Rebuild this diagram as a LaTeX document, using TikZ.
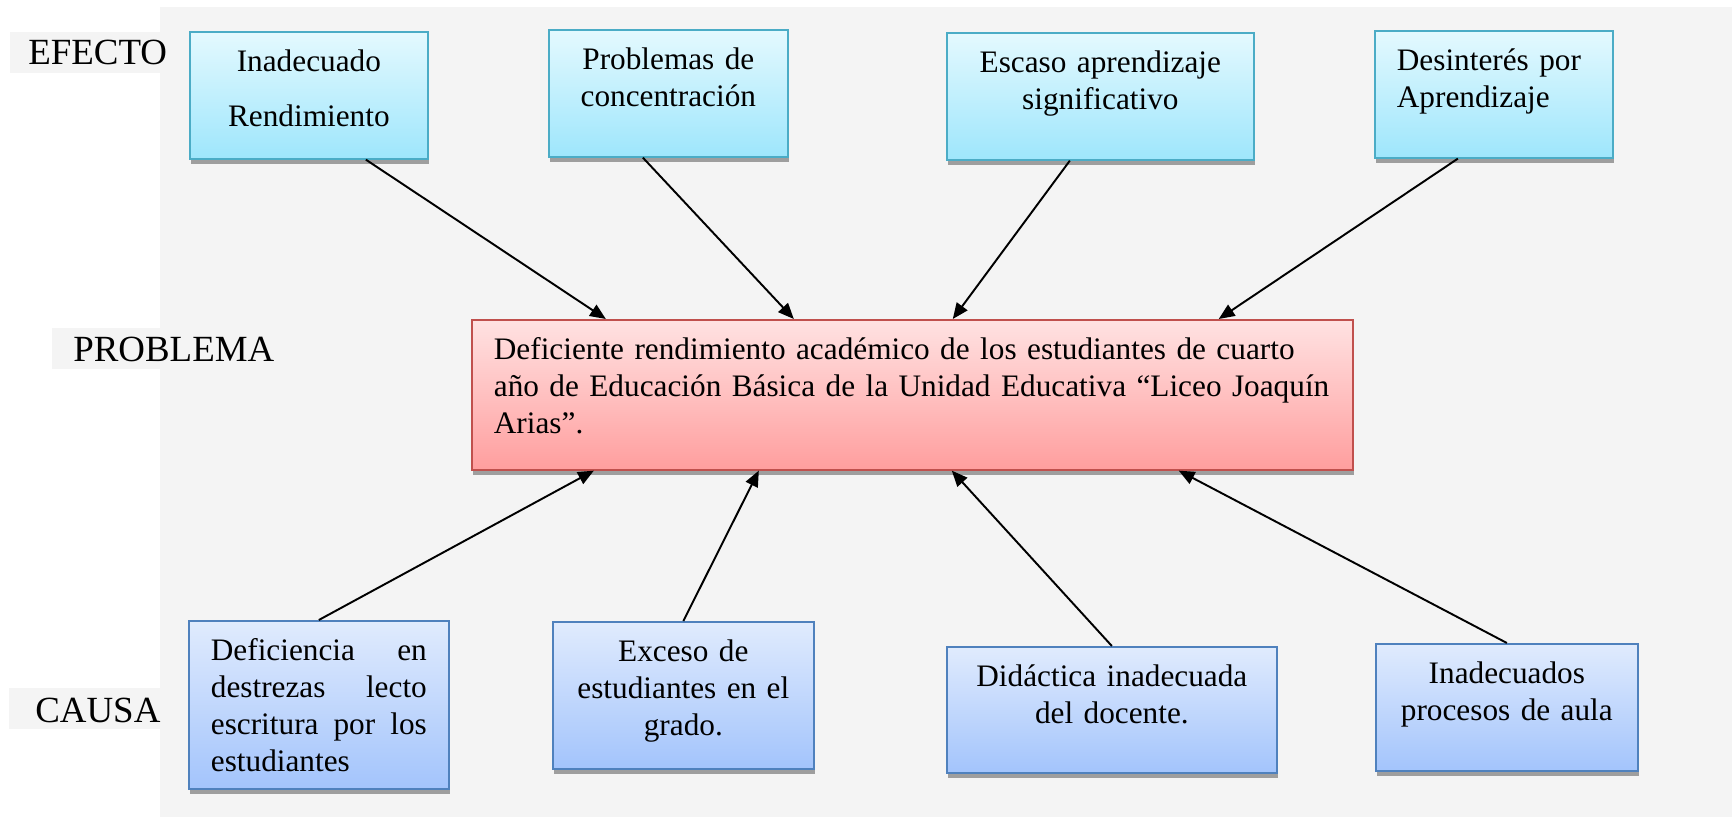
\documentclass[tikz,border=0pt]{standalone}
\usepackage{fontspec}
\setmainfont{Liberation Serif}
\usetikzlibrary{arrows.meta,shadows}

\definecolor{fondo}{HTML}{F4F4F4}
\definecolor{cianborde}{HTML}{4BACC6}
\definecolor{cianarriba}{HTML}{E4F9FE}
\definecolor{cianabajo}{HTML}{9EE6FC}
\definecolor{rojoborde}{HTML}{C0504D}
\definecolor{rojoarriba}{HTML}{FFE2E2}
\definecolor{rojoabajo}{HTML}{FF9E9E}
\definecolor{azulborde}{HTML}{4F81BD}
\definecolor{azularriba}{HTML}{E0EBFD}
\definecolor{azulabajo}{HTML}{A3C4FC}

\tikzset{
    caja/.style={draw, line width=1pt, anchor=north west,
        inner xsep=0.44cm, inner ysep=0.28cm, text height=0.518cm,
        font=\fontsize{17.8}{21}\selectfont,
        drop shadow={shadow xshift=0.6pt, shadow yshift=-3pt, fill=black!38, opacity=1}},
    efecto/.style={caja, draw=cianborde, top color=cianarriba, bottom color=cianabajo,
        align=center, text depth=1.46cm},
    problema/.style={caja, draw=rojoborde, top color=rojoarriba, bottom color=rojoabajo,
        align=left},
    causa/.style={caja, draw=azulborde, top color=azularriba, bottom color=azulabajo,
        align=center},
    etiqueta/.style={anchor=base west, inner sep=0pt, font=\fontsize{21}{25}\selectfont},
    flecha/.style={line width=1.1pt, -{Triangle[length=9pt,width=7.5pt]}}
}

\begin{document}
\begin{tikzpicture}[x=0.02cm, y=-0.02cm]
        \useasboundingbox (0, 0) rectangle (1732, 817);
        \fill [fondo] (160, 7) rectangle (1732, 817);
        \fill [fondo] (10, 32) rectangle (160, 73);
        \fill [fondo] (52, 328) rectangle (160, 369);
        \fill [fondo] (9, 688) rectangle (160, 729);

        \node [etiqueta] (lefecto) at (28, 65) {EFECTO};
        \node [etiqueta] (lproblema) at (73, 362) {PROBLEMA};
        \node [etiqueta] (lcausa) at (35, 722) {CAUSA};

        \node [efecto, text width=3.88cm] (e1) at (189, 31) {Inadecuado\\[0.36cm] Rendimiento};
        \node [efecto, text width=3.90cm] (e2) at (548, 29) {Problemas de\\ concentración};
        \node [efecto, text width=5.26cm] (e3) at (946, 32) {Escaso aprendizaje\\ significativo};
        \node [efecto, text width=3.88cm, align=left] (e4) at (1374, 30) {Desinterés por\\ Aprendizaje};

        \node [problema, text width=16.74cm, text depth=1.92cm] (p) at (471, 319)
            {Deficiente rendimiento académico de los estudiantes de cuarto\\
             \mbox{año de Educación Básica de la Unidad Educativa “Liceo Joaquín}\\
             Arias”.};

        \node [causa, text width=4.32cm, text depth=2.28cm, align=left] (c1) at (188, 620)
            {Deficiencia\hfill en\\ destrezas\hfill lecto\\ escritura\hfill por\hfill los\\ estudiantes};
        \node [causa, text width=4.34cm, text depth=1.86cm] (c2) at (552, 621)
            {Exceso de\\ estudiantes en el\\ grado.};
        \node [causa, text width=5.72cm, text depth=1.44cm] (c3) at (946, 646)
            {Didáctica inadecuada\\ del docente.};
        \node [causa, text width=4.36cm, text depth=1.46cm] (c4) at (1375, 643)
            {Inadecuados\\ procesos de aula};

        \draw [flecha] ([xshift=1.14cm]e1.south) -- ([xshift=-6.13cm]p.north);
        \draw [flecha] ([xshift=-0.51cm]e2.south) -- ([xshift=-2.37cm]p.north);
        \draw [flecha] ([xshift=-0.61cm]e3.south) -- ([xshift=0.81cm]p.north);
        \draw [flecha] ([xshift=-0.72cm]e4.south) -- ([xshift=6.13cm]p.north);

        \draw [flecha] (c1.north) -- ([xshift=-6.37cm]p.south);
        \draw [flecha] (c2.north) -- ([xshift=-3.07cm]p.south);
        \draw [flecha] (c3.north) -- ([xshift=0.79cm]p.south);
        \draw [flecha] (c4.north) -- ([xshift=5.33cm]p.south);
    \end{tikzpicture}
\end{document}
